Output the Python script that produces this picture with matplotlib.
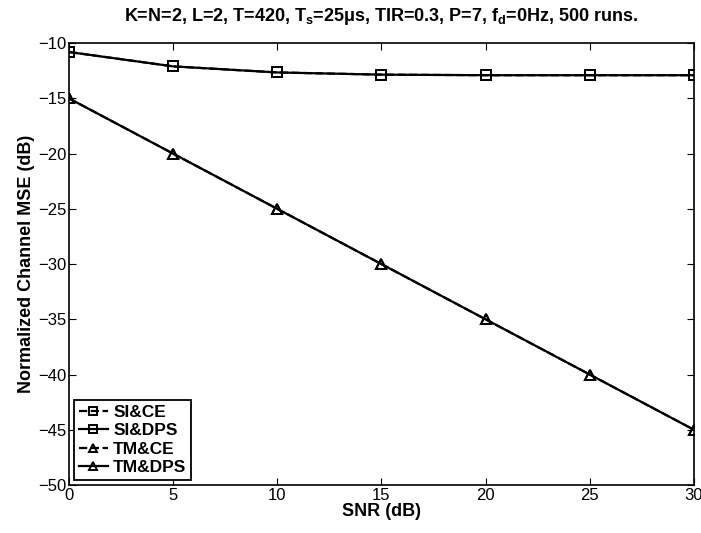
import numpy as np
import matplotlib
matplotlib.use("Agg")
import matplotlib.pyplot as plt

plt.rcParams['font.family'] = ['Liberation Sans', 'DejaVu Sans']
plt.rcParams['mathtext.fontset'] = 'custom'
plt.rcParams['mathtext.rm'] = 'Liberation Sans:bold'
plt.rcParams['mathtext.it'] = 'Liberation Sans:bold'
plt.rcParams['mathtext.bf'] = 'Liberation Sans:bold'

snr = [0, 5, 10, 15, 20, 25, 30]
si_ce = [-10.8, -12.1, -12.65, -12.85, -12.9, -12.9, -12.9]
si_dps = [-10.8, -12.1, -12.65, -12.85, -12.9, -12.9, -12.9]
tm_ce = [-15, -20, -25, -30, -35, -40, -45]
tm_dps = [-15, -20, -25, -30, -35, -40, -45]

fig = plt.figure(figsize=(7.01, 5.33), dpi=100)
ax = fig.add_axes([0.0984, 0.090, 0.8916, 0.829])

mk = dict(color='k', lw=1.6, ms=7, markerfacecolor='none', markeredgewidth=1.4)
ax.plot(snr, si_ce, '--s', label='SI&CE', **mk)
ax.plot(snr, si_dps, '-s', label='SI&DPS', **mk)
ax.plot(snr, tm_ce, '--^', label='TM&CE', **mk)
ax.plot(snr, tm_dps, '-^', label='TM&DPS', **mk)

ax.set_xlim(0, 30)
ax.set_ylim(-50, -10)
ax.set_xticks(np.arange(0, 31, 5))
ax.set_yticks(np.arange(-50, -9, 5))
ax.tick_params(direction='in', top=True, right=True, labelsize=12, length=5, pad=2)
for s in ax.spines.values():
    s.set_linewidth(1.2)

ax.set_xlabel('SNR (dB)', fontsize=13, fontweight='bold', labelpad=0)
ax.set_ylabel('Normalized Channel MSE (dB)', fontsize=13, fontweight='bold', labelpad=2)
ax.set_title(r'K=N=2, L=2, T=420, T$_\mathrm{s}$=25$\mathrm{\mu}$s, TIR=0.3, P=7, f$_\mathrm{d}$=0Hz, 500 runs.',
             fontsize=13, fontweight='bold', pad=16)

leg = ax.legend(loc='lower left', prop={'weight': 'bold', 'size': 12.5}, handlelength=1.7,
                fancybox=False, edgecolor='k', framealpha=1, borderaxespad=0.3,
                labelspacing=0.2, handletextpad=0.3, borderpad=0.25, markerscale=0.8,
                numpoints=1)
leg.get_frame().set_linewidth(1.3)

fig.savefig('out.png', dpi=100)
